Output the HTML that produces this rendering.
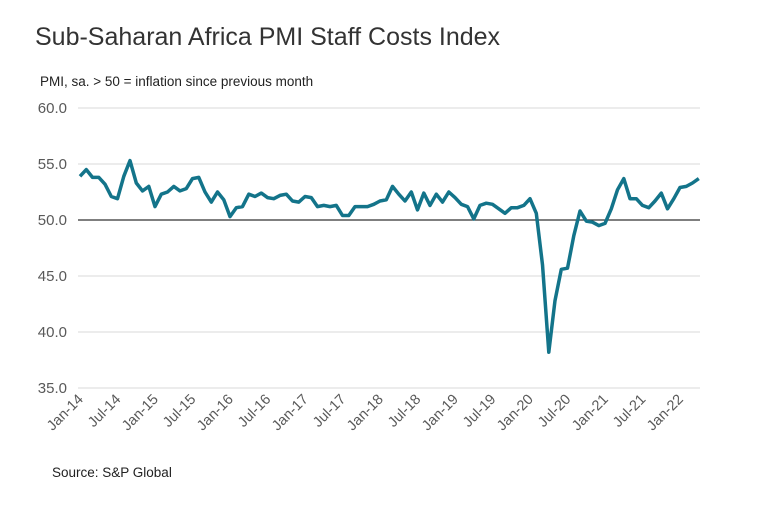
<!DOCTYPE html>
<html><head><meta charset="utf-8"><style>
body{margin:0;background:#fff;width:763px;height:519px;overflow:hidden;font-family:"Liberation Sans",sans-serif}
</style></head><body>
<svg id="c" width="763" height="519" style="position:absolute;left:0;top:0">
<text x="35" y="45" font-size="25" fill="#333">Sub-Saharan Africa PMI Staff Costs Index</text>
<text x="40" y="86" font-size="13.5" fill="#222">PMI, sa. &gt; 50 = inflation  since previous  month</text>
<text x="52" y="477" font-size="13.5" fill="#222">Source:  S&amp;P Global</text>
<g id="grid"></g><g id="xl"></g>
</svg>
<script>
const yTicks=[35,40,45,50,55,60];
const xLabels=["Jan-14","Jul-14","Jan-15","Jul-15","Jan-16","Jul-16","Jan-17","Jul-17","Jan-18","Jul-18","Jan-19","Jul-19","Jan-20","Jul-20","Jan-21","Jul-21","Jan-22"];
const values=[53.9,54.5,53.8,53.8,53.2,52.1,51.9,53.9,55.3,53.3,52.6,53.0,
51.2,52.3,52.5,53.0,52.6,52.8,53.7,53.8,52.5,51.6,52.5,51.8,
50.3,51.1,51.2,52.3,52.1,52.4,52.0,51.9,52.2,52.3,51.7,51.6,
52.1,52.0,51.2,51.3,51.2,51.3,50.4,50.4,51.2,51.2,51.2,51.4,
51.7,51.8,53.0,52.3,51.7,52.5,50.9,52.4,51.3,52.3,51.6,52.5,
52.0,51.4,51.2,50.1,51.3,51.5,51.4,51.0,50.6,51.1,51.1,51.3,
51.9,50.6,46.0,38.2,42.8,45.6,45.7,48.6,50.8,49.9,49.8,49.5,
49.7,51.0,52.7,53.7,51.9,51.9,51.3,51.1,51.7,52.4,51.0,51.9,
52.9,53.0,53.3,53.7];
const NS='http://www.w3.org/2000/svg';
const svg=document.getElementById('c');
const x0=80,dx=6.25,xEnd=700;
const X=i=>x0+i*dx;
const Y=v=>220-(v-50)*11.2;
const g=document.getElementById('grid');
yTicks.forEach(t=>{
 if(t!==50){const l=document.createElementNS(NS,'line');
 l.setAttribute('x1',78);l.setAttribute('x2',xEnd);l.setAttribute('y1',Y(t));l.setAttribute('y2',Y(t));
 l.setAttribute('stroke','#d9d9d9');l.setAttribute('stroke-width','1');
 
 
 g.appendChild(l);}
 const tx=document.createElementNS(NS,'text');
 tx.setAttribute('x',67);tx.setAttribute('y',Y(t)+5);tx.setAttribute('text-anchor','end');
 tx.setAttribute('font-size','15');tx.setAttribute('fill','#595959');
 tx.textContent=t.toFixed(1);
 
 
 g.appendChild(tx);
});
const base=document.createElementNS(NS,'line');
base.setAttribute('x1',78);base.setAttribute('x2',xEnd);base.setAttribute('y1',Y(50));base.setAttribute('y2',Y(50));
base.setAttribute('stroke','#333');base.setAttribute('stroke-width','1.3');


g.appendChild(base);
const xl=document.getElementById('xl');
xLabels.forEach((s,k)=>{
 const px=X(k*6)+4,py=400;
 const t=document.createElementNS(NS,'text');
 t.setAttribute('x',px);t.setAttribute('y',py);t.setAttribute('text-anchor','end');
 t.setAttribute('font-size','14.5');t.setAttribute('fill','#595959');
 t.setAttribute('transform','rotate(-45 '+px+' '+py+')');
 t.textContent=s;
 
 
 xl.appendChild(t);
});
const p=document.createElementNS(NS,'path');
p.setAttribute('d',values.map((v,i)=>(i?'L':'M')+X(i).toFixed(1)+' '+Y(v).toFixed(1)).join(''));
p.setAttribute('fill','none');p.setAttribute('stroke','#13748a');p.setAttribute('stroke-width','3.5');p.setAttribute('stroke-linejoin','round');


svg.appendChild(p);
</script>
</body></html>
